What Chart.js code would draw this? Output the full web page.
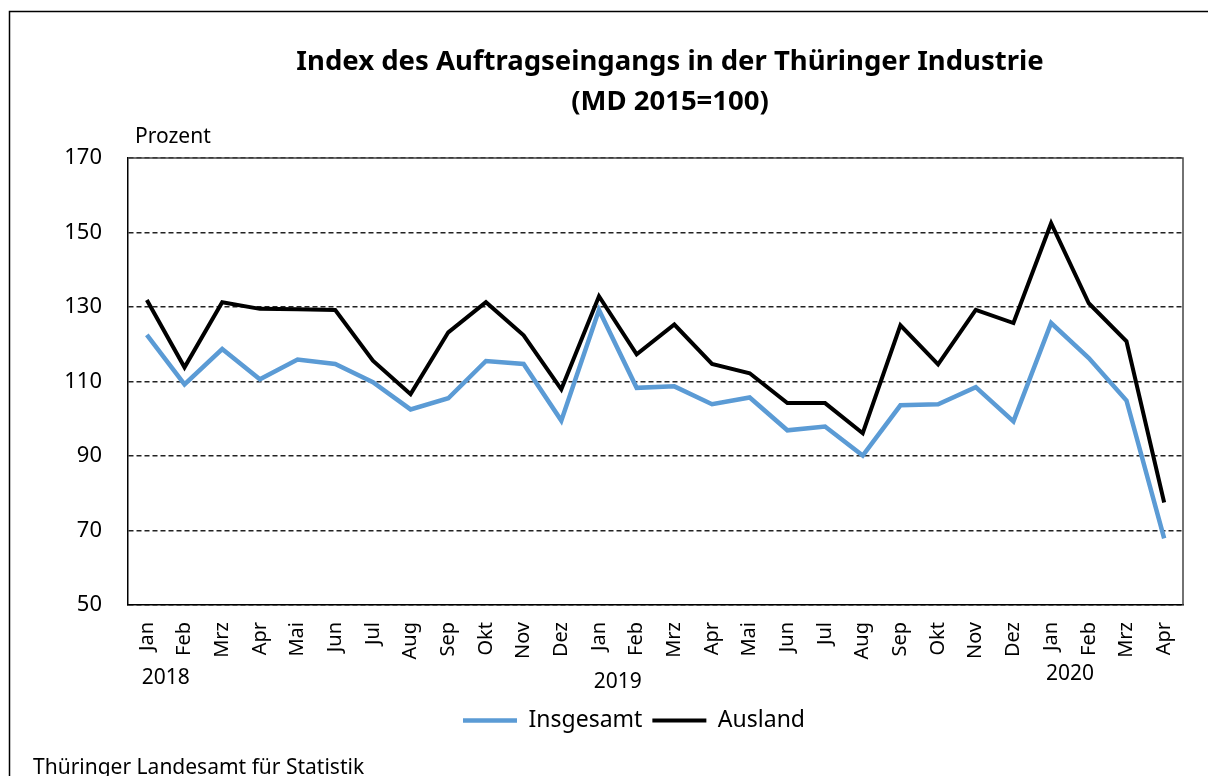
<!DOCTYPE html>
<html>
<head>
<meta charset="utf-8">
<script src="https://cdn.jsdelivr.net/npm/chart.js@4"></script>
<style>
  html, body { margin: 0; padding: 0; background: #fff; overflow: hidden; }
  #wrap { position: relative; width: 1208px; height: 776px; }
</style>
</head>
<body>
<div id="wrap"><canvas id="chart"></canvas></div>
<script>
const months = ['Jan', 'Feb', 'Mrz', 'Apr', 'Mai', 'Jun', 'Jul', 'Aug', 'Sep', 'Okt', 'Nov', 'Dez',
                'Jan', 'Feb', 'Mrz', 'Apr', 'Mai', 'Jun', 'Jul', 'Aug', 'Sep', 'Okt', 'Nov', 'Dez',
                'Jan', 'Feb', 'Mrz', 'Apr'];
const yearLabels = ['2018', '2019', '2020'];
const yearStartIndex = [0, 12, 24];

const insgesamt = [122.5, 109.2, 118.7, 110.6, 115.9, 114.7, 109.8, 102.5, 105.5, 115.5, 114.7, 99.5,
                   129.2, 108.3, 108.7, 103.9, 105.7, 96.9, 97.9, 90.1, 103.6, 103.9, 108.5, 99.3,
                   125.7, 116.3, 104.9, 67.9];
const ausland = [131.9, 113.8, 131.3, 129.5, 129.4, 129.2, 115.6, 106.6, 123.2, 131.3, 122.4, 107.9,
                 132.9, 117.3, 125.3, 114.7, 112.2, 104.2, 104.2, 96.1, 125.1, 114.6, 129.2, 125.7,
                 152.5, 131.0, 120.8, 77.5];

const titleLines = ['Index des Auftragseingangs in der Thüringer Industrie', '(MD 2015=100)'];
const yUnit = 'Prozent';
const source = 'Thüringer Landesamt für Statistik';

const FONT = '"Noto Sans", "Open Sans", sans-serif';

const extras = {
  id: 'extras',
  afterLayout(chart) {
    // the legend in the original sits a little right of the canvas centre
    chart.legend.left = 85;
  },
  afterDraw(chart) {
    const { ctx, chartArea: a, scales: { x } } = chart;
    ctx.save();
    // outer frame (only top and left are visible)
    ctx.strokeStyle = '#000';
    ctx.lineWidth = 1.5;
    ctx.beginPath();
    ctx.moveTo(9.5, 776);
    ctx.lineTo(9.5, 11.5);
    ctx.lineTo(1208, 11.5);
    ctx.stroke();
    // plot frame top + right
    ctx.strokeStyle = '#444';
    ctx.lineWidth = 1.5;
    ctx.beginPath();
    ctx.moveTo(a.left, a.top);
    ctx.lineTo(a.right, a.top);
    ctx.lineTo(a.right, a.bottom);
    ctx.stroke();

    ctx.fillStyle = '#000';
    ctx.textAlign = 'center';
    ctx.textBaseline = 'middle';
    ctx.font = 'bold 27.5px ' + FONT;
    ctx.fillText(titleLines[0], 670, 62);
    ctx.fillText(titleLines[1], 670, 102);

    ctx.textAlign = 'left';
    ctx.font = '21px ' + FONT;
    ctx.fillText(yUnit, 135, 137);

    ctx.textAlign = 'center';
    ctx.font = '21px ' + FONT;
    const yearY = [678, 682, 674];
    yearLabels.forEach((t, i) => {
      const px = (x.getPixelForValue(yearStartIndex[i]) + x.getPixelForValue(yearStartIndex[i] + 1)) / 2;
      ctx.fillText(t, px, yearY[i]);
    });

    ctx.textAlign = 'left';
    ctx.font = '21px ' + FONT;
    ctx.fillText(source, 33, 768);
    ctx.restore();
  }
};

new Chart(document.getElementById('chart'), {
  type: 'line',
  data: {
    labels: months,
    datasets: [
      {
        label: 'Insgesamt',
        data: insgesamt,
        borderColor: '#5b9bd5',
        backgroundColor: '#5b9bd5',
        borderWidth: 4.5,
        pointRadius: 0,
        tension: 0,
      },
      {
        label: 'Ausland',
        data: ausland,
        borderColor: '#000',
        backgroundColor: '#000',
        borderWidth: 4,
        pointRadius: 0,
        tension: 0,
      }
    ]
  },
  options: {
    responsive: true,
    maintainAspectRatio: false,
    animation: false,
    layout: { padding: { top: 158, left: 0, right: 25, bottom: 34 } },
    plugins: {
      title: { display: false },
      tooltip: { enabled: false },
      legend: {
        position: 'bottom',
        labels: {
          usePointStyle: true,
          pointStyle: 'line',
          pointStyleWidth: 54,
          boxWidth: 54,
          color: '#000',
          padding: 10,
          font: { family: FONT, size: 23 }
        }
      }
    },
    scales: {
      x: {
        offset: true,
        grid: { display: false, drawTicks: false },
        border: { display: true, color: '#000', width: 1.5 },
        ticks: {
          color: '#000',
          maxRotation: 90,
          minRotation: 90,
          autoSkip: false,
          padding: 17,
          font: { family: FONT, size: 20 }
        },
        afterFit(scale) { scale.height = 94; }
      },
      y: {
        min: 50,
        max: 170,
        ticks: {
          stepSize: 20,
          color: '#000',
          padding: 26,
          font: { family: FONT, size: 22 }
        },
        grid: {
          drawTicks: false,
          color: '#222',
          lineWidth: 1.4,
        },
        border: { display: true, color: '#000', width: 1.5, dash: [5, 3] },
        afterFit(scale) { scale.width = 128; }
      }
    }
  },
  plugins: [extras]
});
</script>
</body>
</html>
